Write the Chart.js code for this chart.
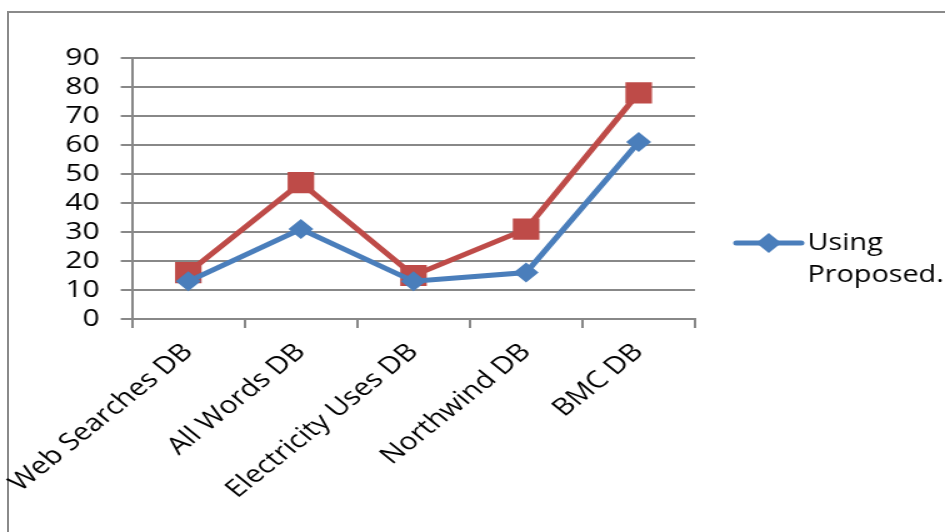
<!DOCTYPE html>
<html>
<head>
<meta charset="utf-8">
<script src="https://cdn.jsdelivr.net/npm/chart.js@4/dist/chart.umd.min.js"></script>
<style>
  html, body { margin: 0; padding: 0; background: #fff; }
  #wrap { position: relative; width: 945px; height: 532px; overflow: hidden; }
  #frame { position: absolute; left: 7px; top: 11px; width: 960px; height: 540px;
           border-left: 2px solid #8a8a8a; border-top: 2px solid #8a8a8a; box-sizing: border-box; }
  /* the chart is laid out on a narrower canvas and widened to the page */
  #stage { position: absolute; left: 0; top: 0; width: 756px; height: 532px;
           transform: scaleX(1.25); transform-origin: 0 0; }
  canvas { display: block; }
</style>
</head>
<body>
<div id="wrap">
  <div id="frame"></div>
  <div id="stage"><canvas id="c" width="756" height="532"></canvas></div>
</div>
<script>
const categories = ['Web Searches DB', 'All Words DB', 'Electricity Uses DB', 'Northwind DB', 'BMC DB'];
const proposedValues = [13, 31, 13, 16, 61];
const existingValues = [16, 47, 15, 31, 78];
const yTicks = [0, 10, 20, 30, 40, 50, 60, 70, 80, 90];

const FONT = '"Open Sans", "Noto Sans", sans-serif';
const GRID = '#888888';
const BLUE = '#4a7ebb';
const RED = '#be4b48';

// Legend for the first series only, with its label wrapped over two lines
const sideLegend = {
  id: 'sideLegend',
  afterDraw(chart) {
    const ctx = chart.ctx;
    const ds = chart.data.datasets[0];
    const x0 = 589, x1 = 641, y = 243;
    const cx = (x0 + x1) / 2, r = 10;
    ctx.save();
    ctx.strokeStyle = ds.borderColor;
    ctx.lineWidth = 5;
    ctx.lineCap = 'round';
    ctx.beginPath();
    ctx.moveTo(x0, y);
    ctx.lineTo(x1, y);
    ctx.stroke();
    ctx.fillStyle = ds.borderColor;
    ctx.beginPath();
    ctx.moveTo(cx, y - r); ctx.lineTo(cx + r, y); ctx.lineTo(cx, y + r); ctx.lineTo(cx - r, y);
    ctx.closePath();
    ctx.fill();
    ctx.fillStyle = '#000';
    ctx.font = '23px ' + FONT;
    ctx.textBaseline = 'middle';
    const words = ds.label.split(' ');
    ctx.fillText(words[0], 646, y);
    ctx.fillText(words.slice(1).join(' '), 646, y + 32);
    ctx.restore();
  }
};

new Chart(document.getElementById('c'), {
  type: 'line',
  data: {
    labels: categories,
    datasets: [
      {
        label: 'Using Proposed.',
        data: proposedValues,
        borderColor: BLUE,
        backgroundColor: BLUE,
        borderWidth: 5,
        pointStyle: 'rectRot',
        pointRadius: 10,
        pointHoverRadius: 10,
        pointBorderWidth: 0,
        tension: 0
      },
      {
        label: 'Existing',
        data: existingValues,
        borderColor: RED,
        backgroundColor: RED,
        borderWidth: 5,
        pointStyle: 'rect',
        pointRadius: 15,
        pointHoverRadius: 15,
        pointBorderWidth: 0,
        tension: 0
      }
    ]
  },
  options: {
    responsive: false,
    animation: false,
    events: [],
    layout: { padding: { left: 0, right: 200, top: 58, bottom: 0 } },
    plugins: { legend: { display: false }, tooltip: { enabled: false } },
    scales: {
      x: {
        offset: true,
        grid: { display: true, drawOnChartArea: false, offset: true, color: GRID, lineWidth: 2, tickLength: 9 },
        border: { display: true, color: GRID, width: 2 },
        ticks: {
          color: '#000',
          font: { family: FONT, size: 24 },
          minRotation: 45,
          maxRotation: 45,
          autoSkip: false,
          padding: 10
        },
        afterFit(scale) {
          scale.height = 213;
          // rotated labels may hang past the left edge of the plot
          scale.paddingLeft = 0;
          scale.paddingRight = 0;
        }
      },
      y: {
        min: 0,
        max: 90,
        afterBuildTicks(scale) { scale.ticks = yTicks.map(v => ({ value: v })); },
        grid: { color: GRID, lineWidth: 2, tickLength: 9 },
        border: { display: true, color: GRID, width: 2 },
        ticks: {
          color: '#000',
          font: { family: FONT, size: 24 },
          autoSkip: false,
          padding: 17
        },
        afterFit(scale) { scale.width = 105.6; }
      }
    }
  },
  plugins: [sideLegend]
});
</script>
</body>
</html>
